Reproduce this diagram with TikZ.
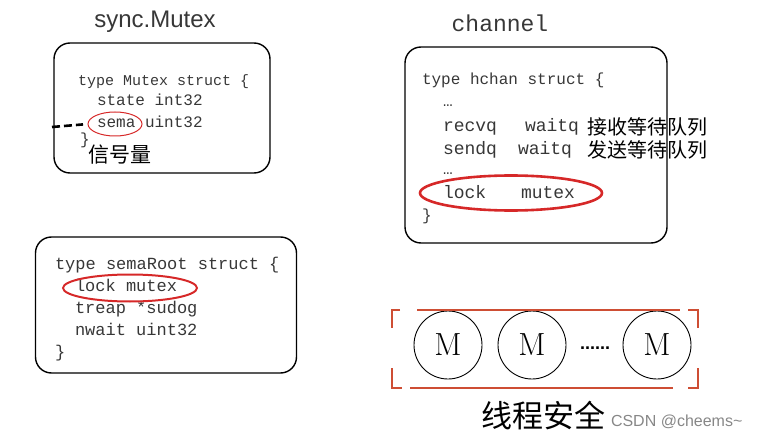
\documentclass[tikz,border=0pt]{standalone}
\usepackage{fontspec}
\newfontfamily\titlefont{Liberation Sans}
\newfontfamily\codefont{Liberation Mono}
\newfontfamily\cjkfont{Noto Sans CJK SC}
\usetikzlibrary{shapes.geometric,positioning}
\definecolor{ringred}{RGB}{214, 40, 40}
\definecolor{bracketred}{RGB}{206, 78, 52}
\definecolor{inkgray}{RGB}{55, 55, 55}
\definecolor{markgray}{RGB}{135, 135, 135}

\begin{document}
\begin{tikzpicture}[
    x=1pt, y=-1pt,
    every node/.style={inner sep=0pt, outer sep=0pt},
    structbox/.style={rectangle, draw=black, line width=1.4pt, rounded corners=16pt},
    title/.style={text=inkgray},
    code/.style={anchor=base west, text=inkgray, font=\codefont\fontsize{#1}{#1}\selectfont},
    code/.default=16,
    note/.style={anchor=base west, text=black, font=\cjkfont\fontsize{20}{20}\selectfont},
    ring/.style={ellipse, draw=ringred},
    worker/.style={circle, draw=black, line width=0.9pt, minimum size=68pt, font=\rmfamily\fontsize{32}{32}\selectfont},
    frame/.style={draw=bracketred, line width=1.8pt}
]
    \useasboundingbox (0,0) rectangle (758,441);

    \node[title, font=\titlefont\fontsize{24}{24}\selectfont] (mutextitle) at (155,22) {sync.Mutex};
    \node[structbox, minimum width=216pt, minimum height=130pt] (mutexbox) at (162,108) {};
    \node[code=15] (mutexhead) at (78,86) {type Mutex struct \{};
    \node[code] (mutexstate) at (97,106) {state int32};
    \node[code] (mutexsema) at (97,128) {sema uint32};
    \node[code] (mutexclose) at (80,145) {\}};
    \node[note, font=\cjkfont\fontsize{21}{21}\selectfont] (semanote) at (88,163) {信号量};
    \node[ring, line width=1pt, minimum width=54pt, minimum height=24pt] (semaring) at (115,124) {};
    \coordinate (semafree) at (52,127);
    \draw[line width=2.6pt, dash pattern=on 8pt off 4pt, shorten >=5pt] (semafree) -- (semaring.west);

    \node[title, font=\codefont\fontsize{23}{23}\selectfont] (chantitle) at (500,23) {channel};
    \node[structbox, minimum width=262pt, minimum height=196pt] (chanbox) at (536,145) {};
    \node[code] (chanhead) at (422,85) {type hchan struct \{};
    \node[code] (chandotsa) at (443,107) {…};
    \node[code=18] (chanrecv) at (443,132) {recvq};
    \node[code=18] (chanrecvtype) at (525,132) {waitq};
    \node[note] (recvnote) at (587,135) {接收等待队列};
    \node[code=18] (chansend) at (443,155) {sendq};
    \node[code=18] (chansendtype) at (518,155) {waitq};
    \node[note] (sendnote) at (587,158) {发送等待队列};
    \node[code] (chandotsb) at (443,175) {…};
    \node[code=18] (chanlock) at (443,198) {lock};
    \node[code=18] (chanlocktype) at (521,198) {mutex};
    \node[code] (chanclose) at (422,220) {\}};
    \node[ring, line width=2.6pt, minimum width=182pt, minimum height=35pt] (chanring) at (511,193) {};

    \node[structbox, minimum width=261pt, minimum height=136pt] (rootbox) at (166,305) {};
    \node[code=17] (roothead) at (55,269) {type semaRoot struct \{};
    \node[code=17] (rootlock) at (75,291) {lock mutex};
    \node[code=17] (roottreap) at (75,313) {treap *sudog};
    \node[code=17] (rootnwait) at (75,335) {nwait uint32};
    \node[code=17] (rootclose) at (55,357) {\}};
    \node[ring, line width=2pt, minimum width=134pt, minimum height=27pt] (rootring) at (130,288) {};

    \node[worker] (m1) at (448,345) {M};
    \node[worker, right=16pt of m1] (m2) {M};
    \node[worker] (m3) at (657,345) {M};
    \node[font=\titlefont\bfseries\fontsize{18}{18}\selectfont, yshift=-3pt, right=14pt of m2] (mdots) {......};

    \draw[frame] (400,310) -- (392,310) -- (392,328);
    \draw[frame] (417,310) -- (680,310);
    \draw[frame] (688,310) -- (698,310) -- (698,328);
    \draw[frame] (392,368) -- (392,388) -- (402,388);
    \draw[frame] (410,388) -- (673,388);
    \draw[frame] (688,388) -- (698,388) -- (698,368);

    \node[font=\cjkfont\fontsize{31}{31}\selectfont] (safenote) at (543,416) {线程安全};
    \node[anchor=west, text=markgray, font=\titlefont\fontsize{16}{16}\selectfont] (watermark) at (611,422) {CSDN @cheems\textasciitilde};
\end{tikzpicture}
\end{document}
